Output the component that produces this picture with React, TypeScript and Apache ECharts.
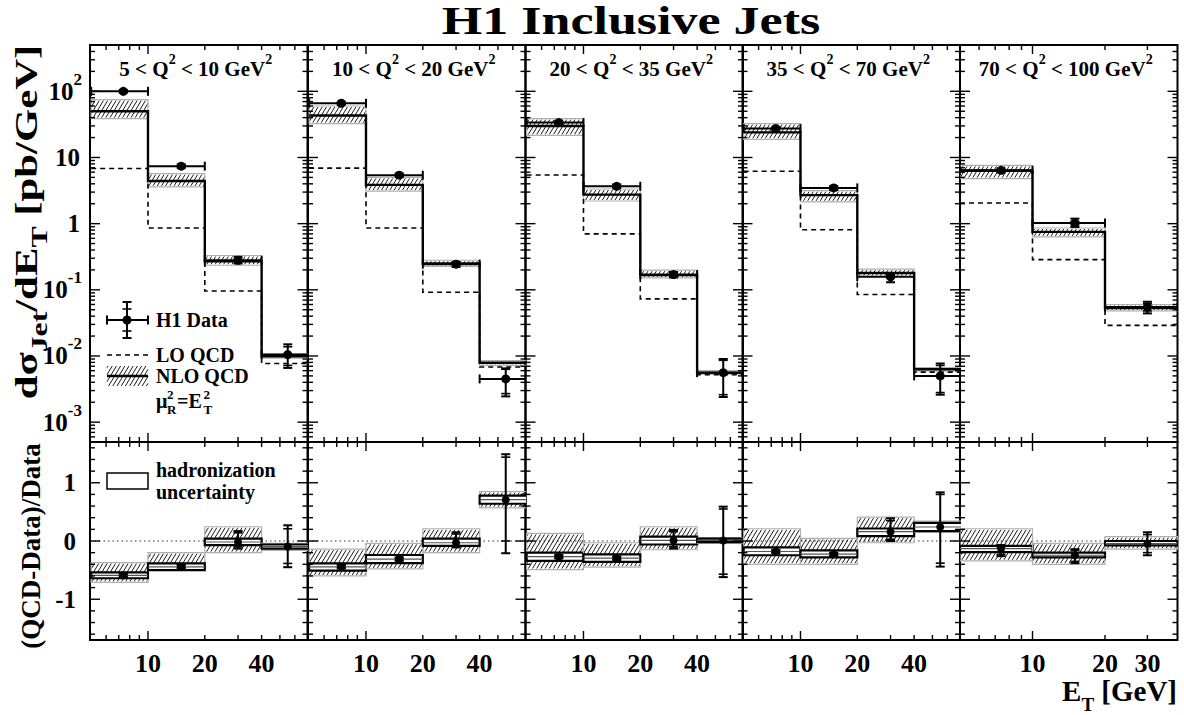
import React, { useEffect, useRef } from 'react';
import * as echarts from 'echarts';

const FONT = '"Liberation Serif", "Times New Roman", Times, serif';
const lg = Math.log10;

// ---------------- binning ----------------
const q2Low = ['5', '10', '20', '35', '70'];
const q2High = ['10', '20', '35', '70', '100'];
const binEdgesLow = [5, 10, 20, 40, 80]; // panels 1-4 (E_T, GeV)
const binEdgesHigh = [5, 10, 20, 40]; // panel 5
const meanEtLow = [7.4, 15, 30, 55];
const meanEtHigh = [7.4, 15, 30];
const xRangeLow = [4.93, 70];
const xRangeHigh = [5, 40];
const xMinorTicksLow = [6, 7, 8, 9, 20, 30, 40, 50, 60];
const xMinorTicksHigh = [6, 7, 8, 9, 20, 30];
const xMajorTicks = [10];
const xTickLabelsLow = [10, 20, 40];
const xTickLabelsHigh = [10, 20, 30];
const yTickExponents = [-3, -2, -1, 0, 1, 2];
const ratioTickLabels = [-1, 0, 1];
const Y_LOG_MIN = -3.3;
const Y_LOG_MAX = 2.7;
const R_MIN = -1.7;
const R_MAX = 1.7;

// ---------------- cross sections dσ/dE_T [pb/GeV] ----------------
const dataXs = [
  [100, 7.4, 0.28, 0.0105],
  [66, 5.4, 0.244, 0.0045],
  [33.7, 3.67, 0.17, 0.0056],
  [27.3, 3.47, 0.157, 0.005],
  [6.4, 1.02, 0.055],
];
const dataErrDown = [
  [5, 0.45, 0.03, 0.0039],
  [3.5, 0.35, 0.022, 0.00205],
  [2, 0.25, 0.016, 0.0032],
  [1.8, 0.25, 0.027, 0.0024],
  [0.45, 0.13, 0.011],
];
const dataErrUp = [
  [5, 0.45, 0.035, 0.0045],
  [3.5, 0.35, 0.02, 0.002],
  [2, 0.25, 0.016, 0.0034],
  [1.8, 0.25, 0.012, 0.0027],
  [0.45, 0.17, 0.011],
];
const dataStatErr = [
  [1, 0.1, 0.008, 0.0033],
  [1, 0.1, 0.006, 0.0018],
  [0.6, 0.06, 0.005, 0.003],
  [0.5, 0.06, 0.006, 0.0022],
  [0.15, 0.06, 0.007],
];
const nloXs = [
  [50, 4.4, 0.27, 0.0099],
  [43, 3.85, 0.25, 0.0079],
  [29.9, 2.75, 0.167, 0.0056],
  [24, 2.7, 0.18, 0.0063],
  [6.3, 0.75, 0.053],
];
const nloLow = [
  [38.7, 3.6, 0.235, 0.0093],
  [32.5, 3.1, 0.225, 0.0072],
  [21.6, 2.2, 0.151, 0.0053],
  [18.8, 2.14, 0.158, 0.0059],
  [4.8, 0.63, 0.048],
];
const nloHigh = [
  [75, 5.7, 0.33, 0.0107],
  [60, 5.0, 0.28, 0.0085],
  [38.7, 3.34, 0.198, 0.006],
  [32.5, 3.16, 0.205, 0.0067],
  [7.6, 0.86, 0.06],
];
const loXs = [
  [6.8, 0.86, 0.096, 0.0077],
  [6.9, 0.86, 0.092, 0.0068],
  [5.45, 0.7, 0.073, 0.0052],
  [6.2, 0.81, 0.085, 0.0057],
  [2.05, 0.286, 0.029],
];

// ---------------- (QCD-Data)/Data ----------------
const ratioCentral = [
  [-0.59, -0.443, -0.017, -0.095],
  [-0.443, -0.31, -0.03, 0.71],
  [-0.27, -0.295, 0.01, 0.01],
  [-0.18, -0.227, 0.16, 0.24],
  [-0.13, -0.245, -0.045],
];
const ratioScaleLow = [
  [-0.71, -0.49, -0.2, -0.16],
  [-0.6, -0.48, -0.2, 0.57],
  [-0.49, -0.45, -0.15, -0.04],
  [-0.4, -0.4, -0.03, 0.15],
  [-0.34, -0.4, -0.14],
];
const ratioScaleHigh = [
  [-0.37, -0.2, 0.245, -0.04],
  [-0.14, -0.04, 0.21, 0.85],
  [0.13, -0.03, 0.245, 0.06],
  [0.21, 0.045, 0.41, 0.34],
  [0.21, -0.04, 0.075],
];
const ratioHadLow = [
  [-0.64, -0.5, -0.07, -0.13],
  [-0.51, -0.38, -0.085, 0.64],
  [-0.34, -0.36, -0.06, -0.02],
  [-0.245, -0.28, 0.085, 0.17],
  [-0.19, -0.28, -0.075],
];
const ratioHadHigh = [
  [-0.54, -0.385, 0.04, -0.06],
  [-0.385, -0.24, 0.04, 0.78],
  [-0.2, -0.23, 0.075, 0.04],
  [-0.11, -0.16, 0.215, 0.31],
  [-0.085, -0.2, 0.0],
];
const ratioErrLow = [
  [-0.62, -0.47, -0.13, -0.45],
  [-0.47, -0.34, -0.11, -0.21],
  [-0.3, -0.325, -0.13, -0.62],
  [-0.21, -0.26, 0.0, -0.44],
  [-0.26, -0.38, -0.245],
];
const ratioErrHigh = [
  [-0.56, -0.41, 0.17, 0.27],
  [-0.41, -0.28, 0.15, 1.49],
  [-0.24, -0.265, 0.19, 0.59],
  [-0.15, -0.2, 0.39, 0.835],
  [-0.07, -0.14, 0.15],
];
const ratioStatLow = [
  [-0.61, -0.46, -0.1, -0.385],
  [-0.46, -0.33, -0.08, 0.0],
  [-0.29, -0.315, -0.1, -0.57],
  [-0.2, -0.25, 0.03, -0.38],
  [-0.23, -0.35, -0.2],
];
const ratioStatHigh = [
  [-0.57, -0.42, 0.14, 0.21],
  [-0.42, -0.29, 0.12, 1.44],
  [-0.25, -0.275, 0.16, 0.55],
  [-0.16, -0.21, 0.35, 0.8],
  [-0.1, -0.16, 0.11],
];

// ---------------- layout ----------------
const PANEL_LEFT = [90, 308, 525.5, 742.5, 960];
const PANEL_W = 217.5;
const TOP_Y = 45;
const TOP_H = 397;
const BOT_Y = 442;
const BOT_H = 198;

function hatchSegs(x0: number, y0: number, x1: number, y1: number, step = 4.2, k = 0.6) {
  const segs: number[][] = [];
  const cMin = x0 + k * y0;
  const cMax = x1 + k * y1;
  for (let c = Math.ceil(cMin / step) * step; c <= cMax; c += step) {
    const ya = Math.max(y0, (c - x1) / k);
    const yb = Math.min(y1, (c - x0) / k);
    if (yb - ya < 0.3) continue;
    segs.push([c - k * ya, ya, c - k * yb, yb]);
  }
  return segs;
}
function hatchPath(x0: number, y0: number, x1: number, y1: number) {
  return hatchSegs(x0, y0, x1, y1)
    .map((s) => `M${s[0].toFixed(2)} ${s[1].toFixed(2)}L${s[2].toFixed(2)} ${s[3].toFixed(2)}`)
    .join('');
}

const bold = (size: number, extra: any = {}) => ({
  fontSize: size,
  fontFamily: FONT,
  fontWeight: 'bold',
  fill: '#000',
  ...extra,
});
const supRich = (base: number, sup: number) => ({
  b: bold(base, { verticalAlign: 'bottom', padding: [Math.round(base * 0.3), 0, 0, 0] }),
  s: bold(sup, { verticalAlign: 'top' }),
});
const subRich = (base: number, sub: number) => ({
  b: bold(base, { verticalAlign: 'bottom', padding: [0, 0, Math.round(base * 0.28), 0] }),
  t: bold(sub, { verticalAlign: 'bottom' }),
});

function textEl(x: number, y: number, text: string, size: number, align: string, vAlign: string, rich?: any, extra: any = {}) {
  return {
    type: 'text',
    x,
    y,
    ...extra,
    style: {
      text,
      fontSize: size,
      fontFamily: FONT,
      fontWeight: 'bold',
      fill: '#000',
      align,
      textAlign: align,
      verticalAlign: vAlign,
      textVerticalAlign: vAlign,
      ...(rich ? { rich } : {}),
    },
  };
}

function line(x1: number, y1: number, x2: number, y2: number, lw = 2, extra: any = {}) {
  return { type: 'line', shape: { x1, y1, x2, y2 }, style: { stroke: '#000', lineWidth: lw, ...extra } };
}

function errorBar(ch: any[], x: number, yUp: number, yDn: number, sUp: number, sDn: number) {
  ch.push(line(x, yUp, x, yDn, 2));
  ch.push(line(x - 4.5, yUp, x + 4.5, yUp, 2));
  ch.push(line(x - 4.5, yDn, x + 4.5, yDn, 2));
  ch.push(line(x - 4.5, sUp, x + 4.5, sUp, 1.6));
  ch.push(line(x - 4.5, sDn, x + 4.5, sDn, 1.6));
}

const renderTop = (p: number) => (_params: any, api: any) => {
  const edges = p < 4 ? binEdgesLow : binEdgesHigh;
  const et = p < 4 ? meanEtLow : meanEtHigh;
  const c = (x: number, y: number) => api.coord([lg(x), lg(y)]);
  const ch: any[] = [];
  const n = edges.length - 1;
  for (let j = 0; j < n; j++) {
    const [xa, ya] = c(edges[j], nloHigh[p][j]);
    const [xb, yb] = c(edges[j + 1], nloLow[p][j]);
    ch.push({ type: 'path', shape: { pathData: hatchPath(xa, ya + 1, xb, yb - 1) }, style: { fill: 'none', stroke: '#000', lineWidth: 0.9 } });
    ch.push({ type: 'rect', shape: { x: xa, y: ya, width: xb - xa, height: yb - ya }, style: { fill: 'none', stroke: '#b0b0b0', lineWidth: 1.2 } });
  }
  const loPts: number[][] = [];
  const nloPts: number[][] = [];
  for (let j = 0; j < n; j++) {
    loPts.push(c(edges[j], loXs[p][j]), c(edges[j + 1], loXs[p][j]));
    nloPts.push(c(edges[j], nloXs[p][j]), c(edges[j + 1], nloXs[p][j]));
  }
  ch.push({ type: 'polyline', shape: { points: loPts }, style: { fill: 'none', stroke: '#000', lineWidth: 1.6, lineDash: [5, 4] } });
  ch.push({ type: 'polyline', shape: { points: nloPts }, style: { fill: 'none', stroke: '#000', lineWidth: 2.4 } });
  for (let j = 0; j < n; j++) {
    const v = dataXs[p][j];
    const [x, y] = c(et[j], v);
    const xl = c(edges[j], v)[0];
    const xr = c(edges[j + 1], v)[0];
    ch.push(line(xl, y, xr, y, 2));
    ch.push(line(xl, y - 4.5, xl, y + 4.5, 2));
    ch.push(line(xr, y - 4.5, xr, y + 4.5, 2));
    const yUp = c(et[j], v + dataErrUp[p][j])[1];
    const yDn = c(et[j], v - dataErrDown[p][j])[1];
    const sUp = c(et[j], v + dataStatErr[p][j])[1];
    const sDn = c(et[j], v - dataStatErr[p][j])[1];
    errorBar(ch, x, yUp, yDn, sUp, sDn);
    ch.push({ type: 'circle', shape: { cx: x, cy: y, r: 4.5 }, style: { fill: '#000' } });
  }
  return { type: 'group', children: ch };
};

const renderRatio = (p: number) => (params: any, api: any) => {
  const edges = p < 4 ? binEdgesLow : binEdgesHigh;
  const et = p < 4 ? meanEtLow : meanEtHigh;
  const c = (x: number, y: number) => api.coord([lg(x), y]);
  const cs = params.coordSys;
  const ch: any[] = [];
  const y0 = c(edges[0], 0)[1];
  ch.push(line(cs.x, y0, cs.x + cs.width, y0, 1, { lineDash: [1.5, 3], stroke: '#333' }));
  const n = edges.length - 1;
  for (let j = 0; j < n; j++) {
    const [xa, ya] = c(edges[j], ratioScaleHigh[p][j]);
    const [xb, yb] = c(edges[j + 1], ratioScaleLow[p][j]);
    ch.push({ type: 'path', shape: { pathData: hatchPath(xa, ya + 1, xb, yb - 1) }, style: { fill: 'none', stroke: '#000', lineWidth: 0.9 } });
    ch.push({ type: 'rect', shape: { x: xa, y: ya, width: xb - xa, height: yb - ya }, style: { fill: 'none', stroke: '#b0b0b0', lineWidth: 1.2 } });
    const hy1 = c(edges[j], ratioHadHigh[p][j])[1];
    const hy2 = c(edges[j], ratioHadLow[p][j])[1];
    ch.push({ type: 'rect', shape: { x: xa, y: hy1, width: xb - xa, height: hy2 - hy1 }, style: { fill: '#fff', stroke: '#000', lineWidth: 2.2 } });
    const cy = c(edges[j], ratioCentral[p][j])[1];
    ch.push(line(xa, cy, xb, cy, 1.2, { stroke: '#555' }));
  }
  for (let j = 0; j < n; j++) {
    const [x, y] = c(et[j], ratioCentral[p][j]);
    errorBar(
      ch,
      x,
      c(et[j], ratioErrHigh[p][j])[1],
      c(et[j], ratioErrLow[p][j])[1],
      c(et[j], ratioStatHigh[p][j])[1],
      c(et[j], ratioStatLow[p][j])[1]
    );
    ch.push({ type: 'circle', shape: { cx: x, cy: y, r: 4 }, style: { fill: '#000' } });
  }
  return { type: 'group', children: ch };
};

const renderTicks = (p: number, isTop: boolean) => (params: any, api: any) => {
  const cs = params.coordSys;
  const L = cs.x;
  const R = cs.x + cs.width;
  const T = cs.y;
  const B = cs.y + cs.height;
  const xr = p < 4 ? xRangeLow : xRangeHigh;
  const ch: any[] = [];
  const tk = (x1: number, y1: number, x2: number, y2: number) => ch.push(line(x1, y1, x2, y2, 1.4));
  const xMinor = p < 4 ? xMinorTicksLow : xMinorTicksHigh;
  const xTicks = [...xMajorTicks.map((v) => ({ v, major: true })), ...xMinor.map((v) => ({ v, major: false }))];
  for (const t of xTicks) {
    const x = api.coord([lg(t.v), 0])[0];
    const len = t.major ? 9 : 5;
    tk(x, B, x, B - len);
    tk(x, T, x, T + len);
  }
  const yTicks: { v: number; major: boolean }[] = [];
  if (isTop) {
    for (let k = -4; k <= 3; k++) {
      for (let m = 1; m <= 9; m++) {
        const v = k + lg(m);
        if (v > Y_LOG_MIN && v < Y_LOG_MAX) yTicks.push({ v, major: m === 1 });
      }
    }
  } else {
    for (let i = -8; i <= 8; i++) yTicks.push({ v: i * 0.2, major: i % 5 === 0 });
  }
  for (const t of yTicks) {
    const y = api.coord([lg(xr[0]), t.v])[1];
    const len = t.major ? 10 : 5;
    tk(L, y, L + len, y);
    tk(R, y, R - len, y);
  }
  if (p === 0 && isTop) {
    for (const k of yTickExponents) {
      const y = api.coord([lg(xr[0]), k])[1];
      if (k === 0) ch.push(textEl(L - 10, y, '1', 25, 'right', 'middle'));
      else if (k === 1) ch.push(textEl(L - 10, y, '10', 25, 'right', 'middle'));
      else ch.push(textEl(L - 8, y - 4, `{b|10}{s|${k}}`, 25, 'right', 'middle', supRich(25, 17)));
    }
  }
  if (p === 0 && !isTop) {
    for (const v of ratioTickLabels) {
      const y = api.coord([lg(xr[0]), v])[1];
      ch.push(textEl(L - 14, y, String(v), 25, 'right', 'middle'));
    }
  }
  if (!isTop) {
    const labels = p < 4 ? xTickLabelsLow : xTickLabelsHigh;
    for (const v of labels) {
      const x = api.coord([lg(v), 0])[0];
      ch.push(textEl(x, B + 23, String(v), 26, 'center', 'middle'));
    }
  }
  return { type: 'group', children: ch };
};

function buildGraphic() {
  const els: any[] = [];
  els.push(textEl(631, 21, 'H1 Inclusive Jets', 40, 'center', 'middle', undefined, { scaleX: 1.3 }));
  // panel titles
  for (let p = 0; p < 5; p++) {
    const cx = PANEL_LEFT[p] + PANEL_W / 2 - 3;
    els.push(textEl(cx, 66, `{b|${q2Low[p]} < Q}{s|2}{b| < ${q2High[p]} GeV}{s|2}`, 21, 'center', 'middle', supRich(21, 14)));
  }
  // y-axis titles
  els.push(
    textEl(31, 222, '{b|dσ}{t|Jet}{b|/dE}{t|T}{b| [pb/GeV]}', 31, 'center', 'middle', subRich(31, 23), { rotation: Math.PI / 2, scaleX: 1.38 })
  );
  els.push(textEl(31, 546, '(QCD-Data)/Data', 27, 'center', 'middle', undefined, { rotation: Math.PI / 2 }));
  // x-axis title
  els.push(textEl(1177, 695, '{b|E}{t|T}{b| [GeV]}', 29, 'right', 'middle', subRich(29, 19)));

  // legend: H1 Data
  els.push(line(107, 320, 148, 320, 2));
  els.push(line(107, 315.5, 107, 324.5, 2));
  els.push(line(148, 315.5, 148, 324.5, 2));
  els.push(line(127, 302, 127, 338, 2));
  els.push(line(122.5, 302, 131.5, 302, 2));
  els.push(line(122.5, 338, 131.5, 338, 2));
  els.push(line(122.5, 309, 131.5, 309, 1.6));
  els.push(line(122.5, 331, 131.5, 331, 1.6));
  els.push({ type: 'circle', shape: { cx: 127, cy: 320, r: 4.5 }, style: { fill: '#000' } });
  els.push(textEl(156, 320, 'H1 Data', 20, 'left', 'middle'));
  // LO
  els.push(line(107, 355, 148, 355, 1.6, { lineDash: [5, 4] }));
  els.push(textEl(156, 355, 'LO QCD', 20, 'left', 'middle'));
  // NLO
  for (const s of hatchSegs(107, 366, 148, 386)) els.push(line(s[0], s[1], s[2], s[3], 0.9));
  els.push(line(107, 376, 148, 376, 2.4));
  els.push(textEl(156, 376, 'NLO QCD', 20, 'left', 'middle'));
  // mu_R^2 = E_T^2
  els.push(textEl(156, 401, 'μ', 20, 'left', 'middle'));
  els.push(textEl(167, 394.5, '2', 13, 'left', 'middle'));
  els.push(textEl(167, 409.5, 'R', 13, 'left', 'middle'));
  els.push(textEl(177, 401, '=E', 20, 'left', 'middle'));
  els.push(textEl(203.5, 394.5, '2', 13, 'left', 'middle'));
  els.push(textEl(203.5, 409.5, 'T', 13, 'left', 'middle'));
  // hadronization legend
  els.push({ type: 'rect', shape: { x: 107, y: 473, width: 41, height: 16 }, style: { fill: '#fff', stroke: '#000', lineWidth: 1.5 } });
  els.push(textEl(156, 470, 'hadronization', 20, 'left', 'middle'));
  els.push(textEl(156, 492, 'uncertainty', 20, 'left', 'middle'));
  return els;
}

function buildOption() {
  const grid: any[] = [];
  const xAxis: any[] = [];
  const yAxis: any[] = [];
  const series: any[] = [];
  for (let p = 0; p < 5; p++) {
    const left = PANEL_LEFT[p];
    const xr = p < 4 ? xRangeLow : xRangeHigh;
    const gTop = 2 * p;
    const gBot = 2 * p + 1;
    const gridBase = { left, width: PANEL_W, show: true, borderColor: '#000', borderWidth: 2, backgroundColor: 'transparent' };
    grid.push({ ...gridBase, top: TOP_Y, height: TOP_H });
    grid.push({ ...gridBase, top: BOT_Y, height: BOT_H });
    for (const gi of [gTop, gBot]) xAxis.push({ type: 'value', gridIndex: gi, min: lg(xr[0]), max: lg(xr[1]), show: false });
    yAxis.push({ type: 'value', gridIndex: gTop, min: Y_LOG_MIN, max: Y_LOG_MAX, show: false });
    yAxis.push({ type: 'value', gridIndex: gBot, min: R_MIN, max: R_MAX, show: false });
    const base = { type: 'custom', silent: true };
    series.push({ ...base, xAxisIndex: gTop, yAxisIndex: gTop, clip: true, z: 2, data: [[lg(xr[0]), Y_LOG_MIN]], renderItem: renderTop(p) });
    series.push({ ...base, xAxisIndex: gBot, yAxisIndex: gBot, clip: true, z: 2, data: [[lg(xr[0]), R_MIN]], renderItem: renderRatio(p) });
    series.push({ ...base, xAxisIndex: gTop, yAxisIndex: gTop, clip: false, z: 5, data: [[lg(xr[0]), Y_LOG_MIN]], renderItem: renderTicks(p, true) });
    series.push({ ...base, xAxisIndex: gBot, yAxisIndex: gBot, clip: false, z: 5, data: [[lg(xr[0]), R_MIN]], renderItem: renderTicks(p, false) });
  }
  return {
    animation: false,
    backgroundColor: '#fff',
    grid,
    xAxis,
    yAxis,
    series,
    graphic: buildGraphic(),
  };
}

export default function App() {
  const ref = useRef<HTMLDivElement>(null);
  useEffect(() => {
    if (!ref.current) return;
    const chart = echarts.init(ref.current, null, { renderer: 'svg' });
    chart.setOption(buildOption() as any);
    return () => chart.dispose();
  }, []);
  return <div ref={ref} style={{ position: 'absolute', left: 0, top: 0, width: 1184, height: 715, background: '#fff' }} />;
}
